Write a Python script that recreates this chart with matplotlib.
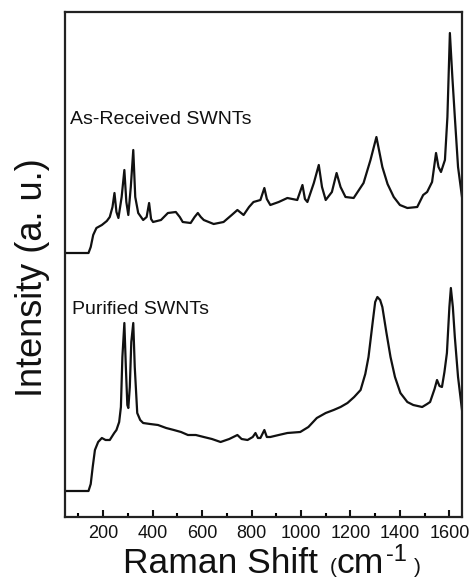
import numpy as np
import matplotlib
matplotlib.use("Agg")
import matplotlib.pyplot as plt
from matplotlib.ticker import MultipleLocator

plt.rcParams["font.family"] = ["Liberation Sans", "DejaVu Sans"]

# --------------------------------------------------------------------------
# Dados (deslocamento Raman em cm-1, intensidade em u.a.)
# --------------------------------------------------------------------------
shift_asrec = [46, 141, 150, 160, 173, 195, 215, 227, 238, 246, 254, 262, 275, 286,
               294, 302, 312, 322, 330, 342, 362, 376, 386, 394, 402, 434, 462, 494,
               510, 522, 554, 570, 583, 595, 607, 647, 687, 720, 743, 768, 790, 808,
               836, 852, 862, 876, 910, 945, 985, 1006, 1016, 1026, 1052, 1072, 1085,
               1100, 1125, 1144, 1160, 1180, 1213, 1253, 1281, 1305, 1329, 1350, 1375,
               1400, 1430, 1470, 1494, 1510, 1530, 1546, 1556, 1566, 1582, 1592, 1602,
               1612, 1622, 1635, 1651]
int_asrec = [264, 264, 270, 282, 289, 292, 296, 300, 310, 324, 305, 299, 320, 347,
             315, 302, 330, 367, 320, 304, 297, 300, 314, 298, 295, 297, 304, 305,
             300, 295, 294, 300, 304, 300, 297, 293, 295, 302, 307, 302, 310, 315,
             317, 329, 318, 312, 315, 319, 317, 332, 318, 315, 334, 352, 330,
             317, 325, 344, 330, 320, 319, 334, 357, 380, 350, 333, 320,
             312, 309, 310, 322, 325, 335, 364, 350, 345, 357, 400, 484,
             440, 400, 350, 320]

shift_pur = [46, 141, 150, 158, 167, 180, 195, 210, 227, 245, 254, 265, 272, 278, 286,
             292, 298, 302, 308, 314, 322, 328, 338, 350, 362, 390, 422, 455, 486,
             515, 543, 575, 607, 640, 675, 710, 743, 760, 784, 805, 816, 826, 836,
             852, 862, 876, 910, 945, 997, 1030, 1064, 1100, 1132, 1160, 1188, 1215,
             1241, 1260, 1273, 1290, 1300, 1309, 1320, 1329, 1345, 1362, 1380, 1402,
             1430, 1454, 1490, 1510, 1522, 1540, 1550, 1560, 1570, 1580, 1590, 1600,
             1606, 1614, 1622, 1635, 1651]
int_pur = [26, 26, 33, 50, 67, 75, 79, 77, 77, 84, 87, 95, 110, 160, 194,
           150, 112, 109, 130, 175, 194, 150, 104, 97, 94, 93, 92, 89, 87,
           85, 82, 82, 80, 78, 75, 78, 82, 78, 77, 80, 84, 79, 79,
           87, 80, 80, 82, 84, 85, 90, 99, 104, 107, 110, 114, 120,
           127, 143, 160, 195, 215, 220, 217, 210, 185, 160, 140, 124,
           115, 112, 110, 113, 115, 128, 137, 131, 130, 145, 164, 210,
           229, 210, 180, 140, 107]

major_ticks = [200, 400, 600, 800, 1000, 1200, 1400, 1600]

W, H = 469, 581
fig = plt.figure(figsize=(W / 100, H / 100), dpi=100)
ax = fig.add_axes([65 / W, 1 - 517 / H, (462 - 65) / W, (517 - 11.5) / H])

ax.plot(shift_asrec, int_asrec, color="#111111", lw=1.6)
ax.plot(shift_pur, int_pur, color="#111111", lw=1.6)

ax.set_xlim(46, 1651)
ax.set_ylim(0, 505.5)
ax.set_xticks(major_ticks)
ax.xaxis.set_minor_locator(MultipleLocator(100))
ax.set_yticks([])
ax.tick_params(axis="x", which="major", direction="in", length=5, width=1.5,
               labelsize=13, pad=6, colors="#111111")
ax.tick_params(axis="x", which="minor", direction="in", length=3, width=1.5)
for sp in ax.spines.values():
    sp.set_linewidth(1.6)
    sp.set_color("#222222")

ax.text(70 / W, 1 - 124 / H, "As-Received SWNTs", transform=fig.transFigure,
        fontsize=14, va="baseline", ha="left", color="#111111")
ax.text(72 / W, 1 - 314 / H, "Purified SWNTs", transform=fig.transFigure,
        fontsize=14, va="baseline", ha="left", color="#111111")

# Rotulos dos eixos (pedacos com tamanhos diferentes, como no original)
fig.text(42 / W, 1 - 278 / H, "Intensity (a. u.)", fontsize=26, rotation=90,
         rotation_mode="anchor", ha="center", va="baseline", color="#111111")
base = 1 - 573 / H
fig.text(123 / W, base, "Raman Shift", fontsize=25.5, ha="left", va="baseline", color="#111111")
fig.text(330 / W, base, "(", fontsize=15, ha="left", va="baseline", color="#111111")
fig.text(336 / W, base, "cm", fontsize=25.5, ha="left", va="baseline", color="#111111")
fig.text(386 / W, 1 - 561 / H, "-1", fontsize=17, ha="left", va="baseline", color="#111111")
fig.text(414 / W, base, ")", fontsize=15, ha="left", va="baseline", color="#111111")

fig.savefig("out.png", dpi=100)
